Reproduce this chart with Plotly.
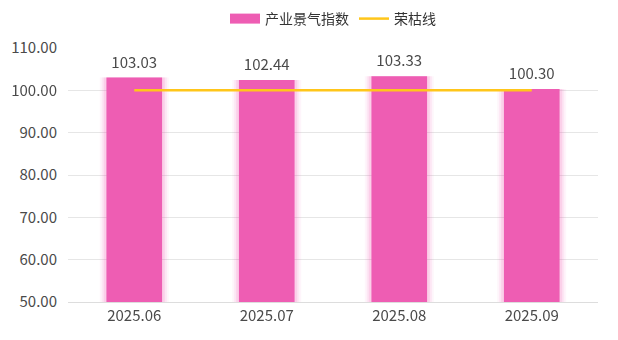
import plotly.graph_objects as go

categories = ["2025.06", "2025.07", "2025.08", "2025.09"]
index_values = [103.03, 102.44, 103.33, 100.30]
boom_line = [100, 100, 100, 100]
tick_vals = [50, 60, 70, 80, 90, 100, 110]

font_family = "Noto Sans CJK SC, Noto Sans, sans-serif"
bar_color = "#EE5DB3"
line_color = "#FFC61A"
text_color = "#4A4A4A"

fig = go.Figure()
# soft glow behind bars
for w, op in [(0.52, 0.06), (0.49, 0.10), (0.46, 0.16)]:
    fig.add_trace(go.Bar(x=categories, y=index_values, width=w, marker=dict(color=bar_color, line=dict(width=0)),
                         opacity=op, showlegend=False, hoverinfo="skip"))
fig.add_trace(go.Bar(x=categories, y=index_values, name="产业景气指数", width=0.42,
                     marker=dict(color=bar_color, line=dict(width=0)), showlegend=False))
# value labels
fig.add_trace(go.Scatter(x=categories, y=index_values, mode="markers+text",
                         text=[f"{v:.2f}" for v in index_values], textposition="top center",
                         marker=dict(size=8, opacity=0), showlegend=False, hoverinfo="skip",
                         textfont=dict(size=15, color=text_color, family=font_family), cliponaxis=False))
# legend entry for bars (wide swatch)
fig.add_trace(go.Scatter(x=[None], y=[None], name="产业景气指数", mode="lines",
                         line=dict(color=bar_color, width=13)))
fig.add_trace(go.Scatter(x=categories, y=boom_line, name="荣枯线", mode="lines",
                         line=dict(color=line_color, width=2.5)))

fig.update_layout(
    width=618, height=340, barmode="overlay",
    margin=dict(l=68, r=20, t=48, b=38, autoexpand=False),
    paper_bgcolor="white", plot_bgcolor="white",
    font=dict(family=font_family, size=15, color=text_color),
    legend=dict(orientation="h", x=0.5, xanchor="center", y=1 - 19 / 340, yanchor="middle", yref="container",
                font=dict(size=14, color="#333333"), itemwidth=30, tracegroupgap=0),
    xaxis=dict(showgrid=False, showline=True, linecolor="#DDDDDD", ticks="", tickfont=dict(size=15, color=text_color)),
    yaxis=dict(range=[50, 110], tickvals=tick_vals, tickformat=".2f", showgrid=True, gridcolor="#E6E6E6",
               zeroline=False, ticks="", tickfont=dict(size=15, color=text_color), ticklabelstandoff=10),
)
fig.write_html("out.html")
